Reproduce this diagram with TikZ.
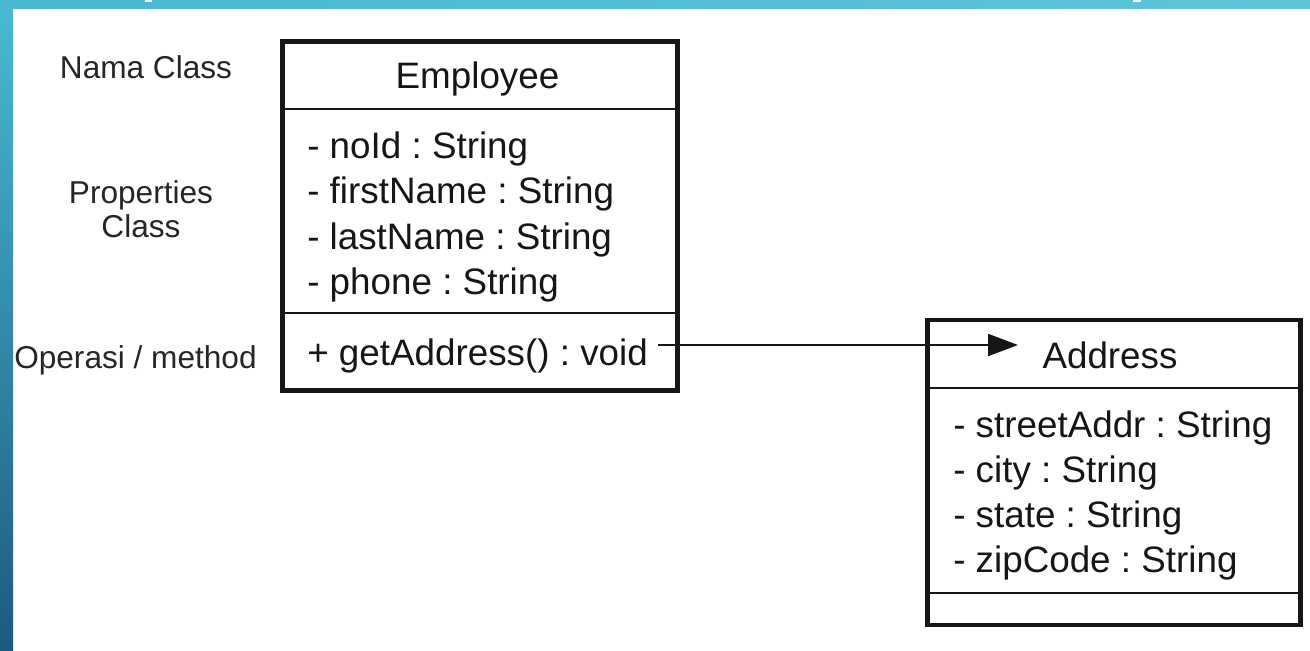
\documentclass[tikz,border=0pt]{standalone}
\usepackage{fontspec}
\setmainfont{Liberation Sans}
\usetikzlibrary{arrows.meta}
\frenchspacing
\definecolor{ink}{HTML}{161616}
\definecolor{lblc}{HTML}{262626}
\definecolor{bandA}{HTML}{46B8D2}
\definecolor{bandB}{HTML}{5CC5DA}
\definecolor{sideTop}{HTML}{48BAD3}
\definecolor{sideBot}{HTML}{1D5A80}
\begin{document}
\begin{tikzpicture}[x=0.75pt,y=-0.75pt,
  boxtxt/.style={inner sep=0pt, text=ink, font=\fontsize{27.6}{30}\selectfont},
  lbl/.style={inner sep=0pt, text=lblc, font=\fontsize{23.7}{28}\selectfont},
  umlbox/.style={draw=ink, line width=3.6pt, inner sep=0pt, anchor=north west},
  sepline/.style={draw=ink, line width=2.2pt},
  assoc/.style={draw=ink, line width=1.7pt, -{Triangle[length=22.5pt,width=16.5pt]}}]
\useasboundingbox (0,0) rectangle (1310,650);
\fill[white] (0,0) rectangle (1310,650);
\shade[left color=bandA, right color=bandB] (0,0) rectangle (1310,8);
\shade[top color=sideTop, bottom color=sideBot] (0,8) rectangle (13,650);
\fill[white] (145,0) rectangle (152,2);
\fill[white] (1133,0) rectangle (1141,1.5);

% Employee class
\node[umlbox, minimum width=296.25pt, minimum height=261.75pt] (emp) at (280,39) {};
\draw[sepline] (emp.west |- 0,109) -- (emp.east |- 0,109);
\draw[sepline] (emp.west |- 0,313) -- (emp.east |- 0,313);
\node[boxtxt, anchor=base] (empname) at (477.5,88) {Employee};
\node[boxtxt, anchor=base west] (ea1) at (307,158) {- noId : String};
\node[boxtxt, anchor=base west] (ea2) at (307,203) {- firstName : String};
\node[boxtxt, anchor=base west] (ea3) at (307,249) {- lastName : String};
\node[boxtxt, anchor=base west] (ea4) at (307,294) {- phone : String};
\node[boxtxt, anchor=base west] (meth) at (307,365) {+ getAddress() : void};

% Address class
\node[umlbox, minimum width=279.75pt, minimum height=228.75pt] (addr) at (925,317.5) {};
\draw[sepline] (addr.west |- 0,388) -- (addr.east |- 0,388);
\draw[sepline] (addr.west |- 0,593) -- (addr.east |- 0,593);
\node[boxtxt, anchor=base] (addrname) at (1110,368) {Address};
\node[boxtxt, anchor=base west] (aa1) at (953,437) {- streetAddr : String};
\node[boxtxt, anchor=base west] (aa2) at (953,482) {- city : String};
\node[boxtxt, anchor=base west] (aa3) at (953,527) {- state : String};
\node[boxtxt, anchor=base west] (aa4) at (953,572) {- zipCode : String};

% association
\coordinate (src) at (658,345);
\coordinate (dst) at (1018,345);
\draw[assoc] (src) -- (dst);

% side labels
\node[lbl, anchor=base] (l1) at (146,78) {Nama Class};
\node[lbl, anchor=base] (l2) at (141,203) {Properties};
\node[lbl, anchor=base] (l3) at (141,237) {Class};
\node[lbl, anchor=base west] (l4) at (14,368) {Operasi / method};
\end{tikzpicture}
\end{document}
